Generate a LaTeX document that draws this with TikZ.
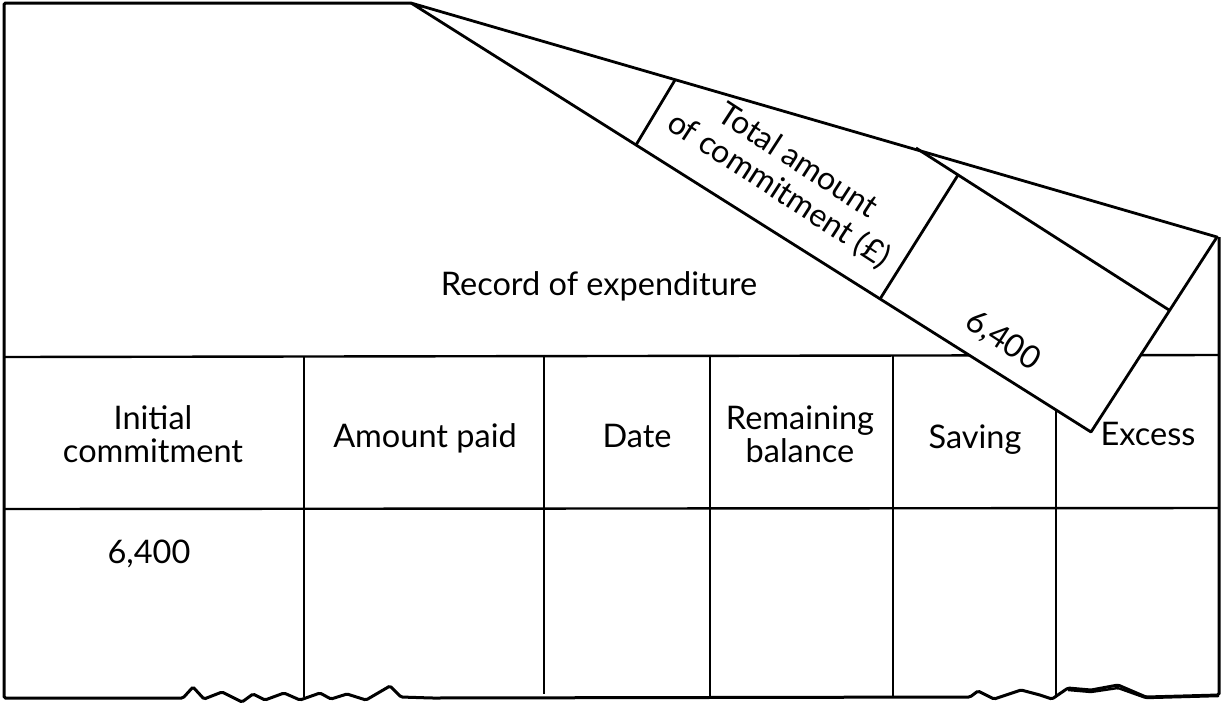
\documentclass[tikz,border=0pt]{standalone}
\usepackage{fontspec}
\setmainfont{Lato}
\begin{document}
\begin{tikzpicture}[x=1pt,y=-1pt,
  frame/.style={line width=3pt, line join=miter},
  rule/.style={line width=2.4pt},
  flapline/.style={line width=2.8pt, line join=round},
  lbl/.style={font=\fontsize{32.5}{33}\selectfont, inner sep=0pt, align=center, anchor=base},
  flaplbl/.style={font=\fontsize{32}{35}\selectfont, inner sep=0pt, align=center, rotate=-33}]
\useasboundingbox (0,0) rectangle (1222,705);
% frame corners
\coordinate (TL) at (4,3);
\coordinate (TF) at (411,3);
\coordinate (BL) at (4,698);
\coordinate (BR) at (1219,695);
\coordinate (RC) at (1219,237);
% table rules
\draw[rule] (4,357) -- (1219,355);
\draw[rule] (4,509) -- (1219,508);
\foreach \x/\yb in {304/697,544/694,710/697,893/697,1056/697}
  \draw[rule] (\x,356) -- (\x,\yb);
% outer frame with torn bottom edge
\draw[frame, rounded corners=1.5pt] (TF) -- (TL) -- (BL) -- (183,698)
  -- (193,687) -- (204,699) -- (222,692) -- (242,702) -- (253,694) -- (265,700)
  -- (284,693) -- (300,700) -- (320,693) -- (331,699) -- (347,694) -- (366,700)
  -- (390,686) -- (401,697) -- (432,698) -- (970,697)
  -- (978,691) -- (994,699) -- (1021,690) -- (1040,695) -- (1052,699)
  -- (1068,688) -- (1091,690) -- (1118,685) -- (1146,697) -- (BR) -- (RC);
\draw[line width=2.4pt, rounded corners=1.5pt] (1068,690) -- (1091,692) -- (1118,688) -- (1146,698) -- (1219,696);
% header texts
\node[lbl] (h1) at (153,462) {Initial\\commitment};
\node[lbl] (h2) at (425,447) {Amount paid};
\node[lbl] (h3) at (637,447) {Date};
\node[lbl] (h4) at (800,462) {Remaining\\balance};
\node[lbl] (h5) at (975,448) {Saving};
\node[lbl] (h6) at (1148,445) {Excess};
\node[lbl] (v1) at (149,563) {6,400};
\node[lbl] (title) at (599,295) {Record of expenditure};
% the lifted flap
\coordinate (FA) at (411,3);
\coordinate (FB) at (1217,237);
\coordinate (FC) at (1091,432);
\draw[flapline, fill=white] (FA) -- (FB) -- (FC) -- cycle;
\draw[flapline] (916,148) -- (1169,310);
\draw[flapline] (675,80) -- (636,145);
\draw[flapline] (958,175) -- (880,299);
\node[flaplbl] (ft) at (788,176) {Total amount\\of commitment (£)};
\node[flaplbl] (fv) at (1003,341) {6,400};
\end{tikzpicture}
\end{document}
